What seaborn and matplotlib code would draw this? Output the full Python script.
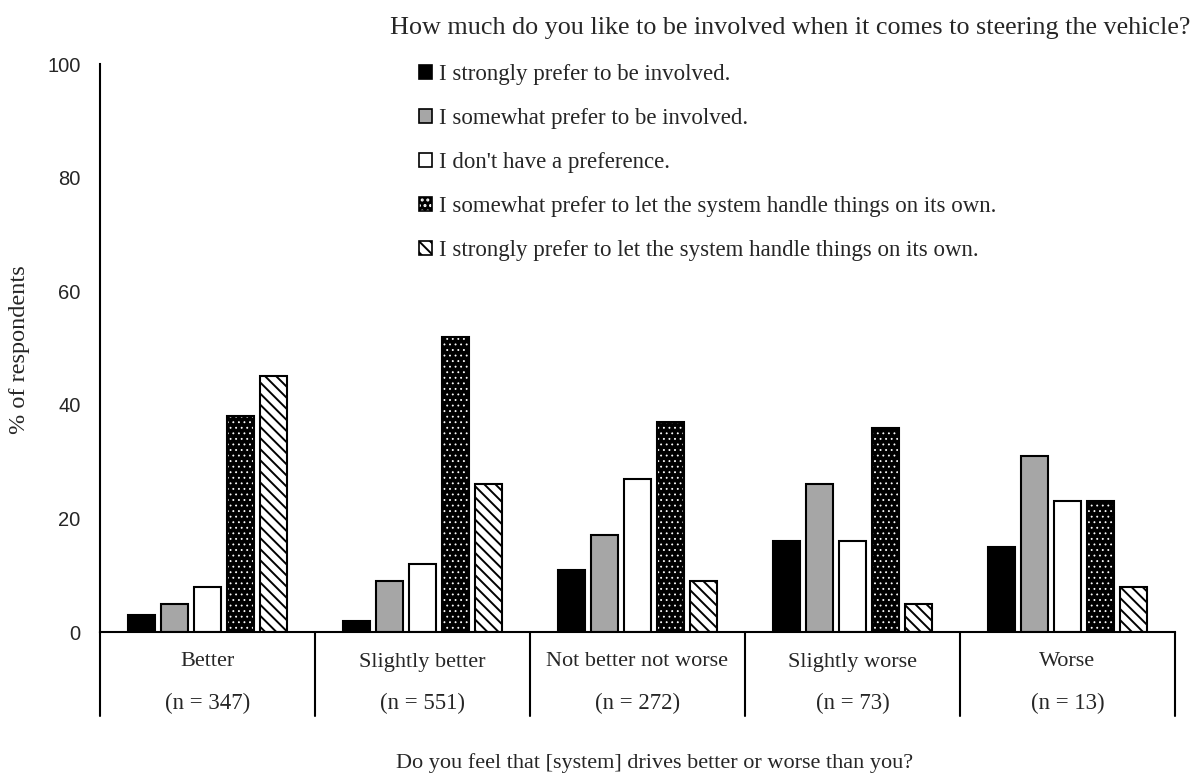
import matplotlib
matplotlib.use("Agg")
import matplotlib.pyplot as plt
from matplotlib.patches import Patch, Rectangle
from matplotlib.legend_handler import HandlerTuple
import pandas as pd
import seaborn as sns

# data
categories = ["Better", "Slightly better", "Not better not worse", "Slightly worse", "Worse"]
n_labels = ["(n = 347)", "(n = 551)", "(n = 272)", "(n = 73)", "(n = 13)"]
responses = [
    "I strongly prefer to be involved.",
    "I somewhat prefer to be involved.",
    "I don't have a preference.",
    "I somewhat prefer to let the system handle things on its own.",
    "I strongly prefer to let the system handle things on its own.",
]
strong_involved = [3, 2, 11, 16, 15]
somewhat_involved = [5, 9, 17, 26, 31]
no_preference = [8, 12, 27, 16, 23]
somewhat_system = [38, 52, 37, 36, 23]
strong_system = [45, 26, 9, 5, 8]

series = [strong_involved, somewhat_involved, no_preference, somewhat_system, strong_system]
rows = []
for resp, vals in zip(responses, series):
    for cat, v in zip(categories, vals):
        rows.append({"category": cat, "response": resp, "pct": v})
df = pd.DataFrame(rows)

sns.set_style("white")
serif = ["Liberation Serif", "DejaVu Serif"]
plt.rcParams["font.family"] = serif
plt.rcParams["hatch.linewidth"] = 1.4

fig = plt.figure(figsize=(11.97, 7.76), dpi=100)
ax = fig.add_axes([100 / 1197, 1 - 632 / 776, 1075 / 1197, 568 / 776])

face = ["black", "#a6a6a6", "white", "black", "white"]
sns.barplot(data=df, x="category", y="pct", hue="response", order=categories,
            hue_order=responses, palette=face, width=0.77, gap=0.17,
            edgecolor="black", linewidth=1.5, saturation=1, legend=False, ax=ax)


def dotted(patch):
    # white dots on a black ground
    patch.set_facecolor("black")
    patch.set_edgecolor("white")
    patch.set_hatch("...")
    patch.set_linewidth(0)
    if hasattr(patch, "set_hatch_linewidth"):
        patch.set_hatch_linewidth(0.6)


for i, cont in enumerate(ax.containers):
    for bar in cont:
        if i == 3:
            dotted(bar)
            x0, y0 = bar.get_xy()
            ax.add_patch(Rectangle((x0, y0), bar.get_width(), bar.get_height(),
                                   fill=False, edgecolor="black", linewidth=1.5))
        elif i == 4:
            bar.set_hatch("\\\\\\")

ax.set_xlim(-0.5, 4.5)
ax.set_ylim(0, 100)
ax.set_yticks(range(0, 101, 20))
ax.tick_params(axis="y", length=0, pad=14, labelsize=14.5)
for lab in ax.get_yticklabels():
    lab.set_family("Liberation Sans")
ax.set_xticks([])
ax.set_xlabel("")
ax.set_ylabel("")
fig.text(20 / 1197, 1 - 350 / 776, "% of respondents", rotation=90,
         ha="center", va="center", fontsize=17.5)

for s in ["top", "right"]:
    ax.spines[s].set_visible(False)
ax.spines["left"].set_linewidth(1.5)
ax.spines["bottom"].set_linewidth(1.5)
ax.spines["left"].set_color("black")
ax.spines["bottom"].set_color("black")

# category table below the axis
trans = ax.get_xaxis_transform()
drop = -84 / 568
for b in [-0.5, 0.5, 1.5, 2.5, 3.5, 4.5]:
    ax.plot([b, b], [0, drop], color="black", lw=1.5, transform=trans, clip_on=False)
for i, (c, n) in enumerate(zip(categories, n_labels)):
    ax.text(i, -30 / 568, c, ha="center", va="center", fontsize=16, transform=trans)
    ax.text(i, -71 / 568, n, ha="center", va="center", fontsize=16.5, transform=trans)

fig.text(655 / 1197, 1 - 763 / 776, "Do you feel that [system] drives better or worse than you?",
         ha="center", va="center", fontsize=16)
fig.text(1190 / 1197, 1 - 28 / 776,
         "How much do you like to be involved when it comes to steering the vehicle?",
         ha="right", va="center", fontsize=18.8)

dot_handle = Patch()
dotted(dot_handle)
handles = [
    Patch(facecolor="black", edgecolor="black", linewidth=1.2),
    Patch(facecolor="#a6a6a6", edgecolor="black", linewidth=1.2),
    Patch(facecolor="white", edgecolor="black", linewidth=1.2),
    (dot_handle, Patch(fill=False, edgecolor="black", linewidth=1.2)),
    Patch(facecolor="white", edgecolor="black", hatch="\\\\\\", linewidth=1.2),
]
fig.legend(handles, responses, loc="upper left", bbox_to_anchor=(410 / 1197, 1 - 55 / 776),
           frameon=False, fontsize=16.5, handlelength=0.55, handleheight=0.55,
           handletextpad=0.3, labelspacing=1.0, borderaxespad=0,
           handler_map={tuple: HandlerTuple(ndivide=1, pad=0)})

fig.savefig("out.png", dpi=100)
